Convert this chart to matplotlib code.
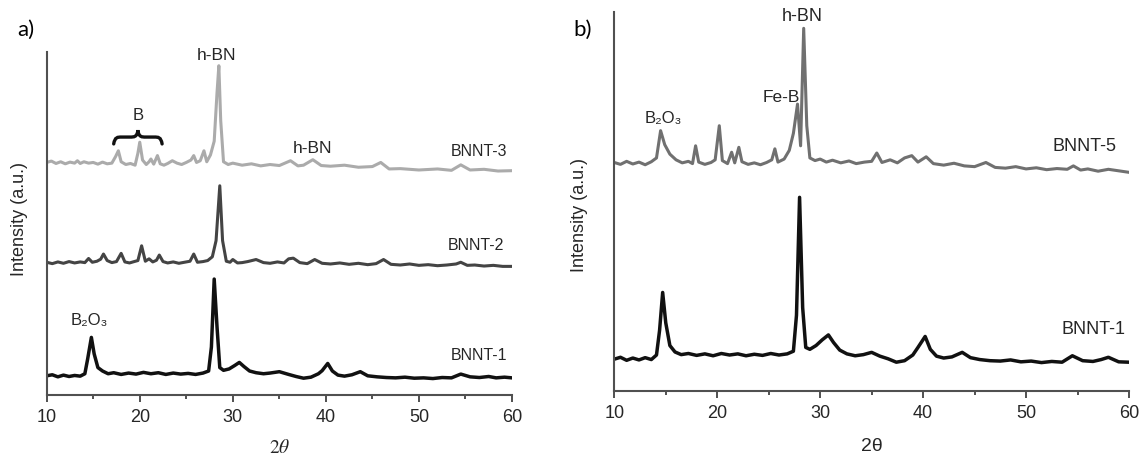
import matplotlib
matplotlib.use("Agg")
import matplotlib.pyplot as plt
from matplotlib.path import Path
from matplotlib.patches import PathPatch
from matplotlib.ticker import MultipleLocator

plt.rcParams['font.family'] = ['Liberation Sans', 'DejaVu Sans']
plt.rcParams['mathtext.fontset'] = 'stix'

# --------------------------
# data (2theta in degrees, intensity in arbitrary units)
# --------------------------
# panel a) BNNT-3 (offset top trace)
a3_x = [10, 10.5, 11, 11.5, 12, 12.5, 13, 13.3, 13.6, 14, 14.5, 15, 15.5, 16, 16.5, 17, 17.4, 17.7, 18.0,
        18.5, 19, 19.5, 19.8, 20.0, 20.3, 20.7, 21.0, 21.2, 21.5, 21.9, 22.2, 22.6, 23.0, 23.5, 24.0, 24.5,
        25.0, 25.5, 25.8, 26.1, 26.5, 26.9, 27.2, 27.6, 28.0, 28.3, 28.5, 28.7, 29.0, 29.5, 30, 31, 32, 33,
        34, 35, 36.2, 37, 37.6, 38.6, 39.5, 40.5, 42, 43.5, 45, 45.9, 46.8, 48, 50, 52, 53.5, 54.5, 55.5,
        57, 58.5, 60]
a3_y = [67.8, 68.2, 67.5, 68.0, 67.4, 67.9, 67.6, 68.3, 67.5, 68.0, 67.6, 67.8, 67.3, 67.9, 67.4, 67.6, 69.5,
        71.2, 68.0, 67.2, 67.5, 67.0, 70.5, 73.7, 68.5, 67.2, 68.0, 68.8, 67.3, 69.8, 67.4, 67.0, 67.5, 68.3,
        67.6, 67.2, 67.8, 68.5, 69.8, 67.8, 68.3, 71.2, 68.0, 70.0, 74.0, 88.0, 96.0, 80.0, 68.0, 67.2, 67.6,
        67.0, 67.4, 66.8, 67.2, 66.9, 68.3, 66.8, 67.0, 68.6, 66.9, 66.7, 67.0, 66.4, 66.6, 67.8, 65.9, 66.0,
        65.6, 65.9, 65.5, 67.1, 65.6, 65.8, 65.3, 65.4]

# panel a) BNNT-2
a2_x = [10, 10.6, 11.2, 11.8, 12.4, 13, 13.6, 14.1, 14.5, 14.9, 15.4, 15.8, 16.1, 16.5, 17, 17.5, 18.0, 18.4,
        18.9, 19.4, 19.8, 20.2, 20.6, 21.0, 21.4, 21.8, 22.1, 22.5, 23, 23.6, 24.2, 24.8, 25.4, 25.8, 26.2,
        26.8, 27.3, 27.8, 28.2, 28.6, 28.9, 29.3, 29.7, 30.0, 30.5, 31, 31.6, 32.5, 33.3, 34, 34.8, 35.5, 36.0,
        36.5, 37.2, 38, 38.8, 39.6, 40.5, 41.5, 42.5, 43.5, 44.5, 45.4, 46.2, 47, 48, 49, 50, 51, 52, 53, 54,
        54.5, 55.2, 56, 57, 58, 59, 60]
a2_y = [38.7, 38.3, 38.8, 38.4, 38.9, 38.5, 38.8, 38.6, 39.8, 38.7, 39.0, 39.6, 41.1, 39.2, 38.6, 38.9, 41.3,
        38.8, 38.5, 38.9, 39.2, 43.5, 39.0, 39.7, 38.8, 39.3, 40.8, 38.9, 38.5, 38.8, 38.4, 38.7, 39.0, 41.1,
        38.7, 38.9, 39.2, 40.3, 45.0, 61.0, 45.0, 39.0, 38.7, 39.5, 38.5, 38.6, 38.9, 39.5, 38.6, 38.4, 38.8,
        38.5, 39.7, 39.9, 38.6, 38.3, 39.5, 38.4, 38.2, 38.5, 38.1, 38.4, 38.0, 38.3, 39.5, 38.1, 37.9, 38.2,
        37.8, 38.0, 37.7, 37.9, 38.2, 38.7, 37.8, 37.9, 37.6, 37.8, 37.5, 37.5]

# panel a) BNNT-1
a1_x = [10, 10.6, 11.2, 11.8, 12.4, 13, 13.6, 14.1, 14.4, 14.8, 15.1, 15.5, 16.0, 16.6, 17.2, 18, 18.8, 19.6,
        20.4, 21.2, 22, 22.8, 23.6, 24.4, 25.2, 26, 26.8, 27.4, 27.7, 28.0, 28.3, 28.6, 29.0, 29.6, 30.2, 30.7,
        31.2, 31.8, 32.5, 33.3, 34, 35, 36, 36.8, 37.6, 38.4, 39.2, 39.6, 40.2, 40.7, 41.3, 42, 42.8, 43.7,
        44.5, 45.5, 46.5, 47.5, 48.5, 49.5, 50.5, 51.5, 52.5, 53.5, 54.5, 55.5, 56.5, 57.5, 58.3, 59.2, 60]
a1_y = [5.6, 5.9, 5.3, 5.8, 5.4, 5.7, 5.5, 6.2, 10.5, 16.8, 12.0, 8.0, 7.0, 6.2, 6.5, 6.0, 6.4, 6.1, 6.6, 6.2,
        6.5, 6.0, 6.4, 6.1, 6.3, 6.0, 6.4, 7.0, 14.0, 33.8, 20.0, 8.0, 7.2, 7.6, 8.6, 9.5, 8.3, 7.0, 6.5, 6.2,
        6.4, 6.8, 6.0, 5.4, 4.9, 5.2, 6.2, 7.1, 9.2, 7.0, 5.8, 5.5, 5.9, 6.8, 5.6, 5.3, 5.1, 5.0, 5.2, 4.9,
        5.0, 4.8, 5.1, 5.0, 6.1, 5.3, 5.1, 5.4, 5.0, 5.2, 5.0]

# panel b) BNNT-5
b5_x = [10, 10.6, 11.2, 11.8, 12.4, 13, 13.6, 14.1, 14.5, 14.9, 15.4, 16, 16.6, 17.2, 17.6, 17.9, 18.2, 18.8,
        19.4, 19.8, 20.2, 20.5, 21.0, 21.4, 21.7, 22.1, 22.4, 23, 23.6, 24.2, 24.8, 25.3, 25.6, 25.9, 26.5,
        27.0, 27.4, 27.8, 28.1, 28.4, 28.7, 29.0, 29.5, 30, 30.6, 31.2, 32, 32.8, 33.5, 34.3, 35.0, 35.5, 36.0,
        36.8, 37.5, 38.2, 38.9, 39.5, 40.3, 41, 42, 43, 44, 45, 46.1, 47, 48, 49, 50, 51, 52, 53, 54, 54.6,
        55.3, 56, 57, 58, 59, 60]
b5_y = [60.3, 59.8, 60.6, 59.9, 60.4, 59.7, 60.5, 61.5, 68.7, 65.0, 62.5, 61.0, 60.2, 60.6, 60.0, 64.7, 60.4,
        59.8, 60.3, 61.0, 70.0, 60.8, 60.0, 63.0, 60.2, 64.3, 60.5, 59.8, 60.2, 59.7, 60.3, 61.0, 63.9, 60.4,
        61.2, 63.5, 68.0, 75.7, 64.7, 95.7, 70.0, 61.5, 60.8, 61.2, 60.4, 60.9, 60.2, 60.7, 60.0, 60.4, 60.6,
        62.8, 60.3, 61.0, 60.2, 61.5, 62.1, 60.4, 61.8, 60.0, 59.6, 60.1, 59.4, 59.2, 60.3, 59.0, 58.8, 59.2,
        58.6, 58.9, 58.4, 58.7, 58.5, 59.4, 58.3, 58.6, 58.0, 58.5, 58.1, 57.7]

# panel b) BNNT-1
b1_x = [10, 10.6, 11.2, 11.8, 12.4, 13, 13.6, 14.1, 14.4, 14.7, 15.0, 15.4, 15.9, 16.5, 17.2, 18, 18.8, 19.6,
        20.4, 21.2, 22, 22.8, 23.6, 24.4, 25.2, 26, 26.8, 27.4, 27.7, 28.0, 28.3, 28.6, 29.0, 29.6, 30.2, 30.8,
        31.3, 31.9, 32.6, 33.4, 34.2, 35.0, 35.8, 36.6, 37.4, 38.2, 39.0, 39.5, 40.2, 40.7, 41.3, 42, 42.8,
        43.8, 44.6, 45.5, 46.5, 47.5, 48.5, 49.5, 50.5, 51.5, 52.5, 53.5, 54.5, 55.5, 56.5, 57.3, 58.0, 59, 60]
b1_y = [8.4, 8.9, 8.1, 8.7, 8.2, 8.8, 8.3, 9.5, 16.0, 26.0, 18.0, 12.0, 10.3, 9.6, 9.9, 9.4, 9.8, 9.3, 9.9,
        9.5, 9.8, 9.3, 9.7, 9.4, 9.9, 9.5, 9.8, 10.5, 20.0, 51.1, 22.0, 11.5, 11.0, 12.0, 13.5, 14.8, 12.8,
        10.8, 9.8, 9.3, 9.6, 10.2, 9.2, 8.5, 7.6, 8.0, 9.5, 11.5, 14.4, 11.0, 9.2, 8.7, 9.0, 10.2, 8.8, 8.3,
        8.0, 7.9, 8.2, 7.7, 7.9, 7.5, 7.8, 7.6, 9.3, 8.0, 7.8, 8.3, 8.9, 7.7, 7.6]

x_ticks = [10, 20, 30, 40, 50, 60]

# --------------------------
# figure layout
# --------------------------
fig = plt.figure(figsize=(11.42, 4.6), dpi=100)
ax_a = fig.add_axes([0.0409, 0.1391, 0.4074, 0.7457])
ax_b = fig.add_axes([0.5379, 0.1478, 0.4507, 0.8239])

TXT = '#262626'


def style_axis(ax):
    ax.set_xlim(10, 60)
    ax.set_ylim(0, 100)
    for s in ['top', 'right']:
        ax.spines[s].set_visible(False)
    for s in ['left', 'bottom']:
        ax.spines[s].set_color('#505050')
        ax.spines[s].set_linewidth(1.5)
    ax.set_yticks([])
    ax.set_xticks(x_ticks)
    ax.xaxis.set_minor_locator(MultipleLocator(5))
    ax.tick_params(axis='x', which='major', length=5, width=1.4, color='#505050',
                   labelsize=13, labelcolor=TXT, pad=4)
    ax.tick_params(axis='x', which='minor', length=3, width=1.4, color='#505050')
    ax.set_ylabel('Intensity (a.u.)', fontsize=13, color=TXT)


def curly_brace(ax, x0, x1, y, h, **kw):
    # horizontal brace: ends curl down, tip points up
    xm = (x0 + x1) / 2
    q = (x1 - x0) * 0.16
    verts = [(x0, y - h / 2), (x0 + 0.15 * q, y), (x0 + 0.5 * q, y), (x0 + q, y),
             (xm - q, y),
             (xm - 0.5 * q, y), (xm - 0.1 * q, y), (xm, y + h / 2),
             (xm + 0.1 * q, y), (xm + 0.5 * q, y), (xm + q, y),
             (x1 - q, y),
             (x1 - 0.5 * q, y), (x1 - 0.15 * q, y), (x1, y - h / 2)]
    codes = [Path.MOVETO, Path.CURVE4, Path.CURVE4, Path.CURVE4,
             Path.LINETO,
             Path.CURVE4, Path.CURVE4, Path.CURVE4,
             Path.CURVE4, Path.CURVE4, Path.CURVE4,
             Path.LINETO,
             Path.CURVE4, Path.CURVE4, Path.CURVE4]
    ax.add_patch(PathPatch(Path(verts, codes), fill=False, capstyle='round', **kw))


# --------------------------
# panel a
# --------------------------
style_axis(ax_a)
ax_a.plot(a3_x, a3_y, color='#ababab', lw=2.2)
ax_a.plot(a2_x, a2_y, color='#444444', lw=2.2)
ax_a.plot(a1_x, a1_y, color='#111111', lw=2.5)
ax_a.set_xlabel(r'$2\theta$', fontsize=14, color=TXT, labelpad=10)
ax_a.yaxis.set_label_coords(-0.040, 0.516)

ax_a.text(28.2, 99.4, 'h-BN', ha='center', va='center', fontsize=12.5, color=TXT)
ax_a.text(19.8, 81.9, 'B', ha='center', va='center', fontsize=12, color=TXT)
curly_brace(ax_a, 17.2, 22.4, 75.2, 4.0, lw=2.4, color='#111111')
ax_a.text(38.6, 72.2, 'h-BN', ha='center', va='center', fontsize=12.5, color=TXT)
ax_a.text(59.5, 71.2, 'BNNT-3', ha='right', va='center', fontsize=11.5, color=TXT)
ax_a.text(59.2, 44.0, 'BNNT-2', ha='right', va='center', fontsize=11.5, color=TXT)
ax_a.text(14.6, 21.9, 'B₂O₃', ha='center', va='center', fontsize=12, color=TXT)
ax_a.text(59.5, 11.7, 'BNNT-1', ha='right', va='center', fontsize=11.5, color=TXT)

# --------------------------
# panel b
# --------------------------
style_axis(ax_b)
ax_b.plot(b5_x, b5_y, color='#707070', lw=2.2)
ax_b.plot(b1_x, b1_y, color='#111111', lw=2.5)
ax_b.set_xlabel('2θ', fontsize=14, color=TXT, labelpad=12)
ax_b.yaxis.set_label_coords(-0.051, 0.467)

ax_b.text(28.3, 99.0, 'h-BN', ha='center', va='center', fontsize=13, color=TXT)
ax_b.text(26.2, 77.8, 'Fe-B', ha='center', va='center', fontsize=12.5, color=TXT)
ax_b.text(14.8, 72.2, 'B₂O₃', ha='center', va='center', fontsize=12, color=TXT)
ax_b.text(58.8, 64.7, 'BNNT-5', ha='right', va='center', fontsize=13, color=TXT)
ax_b.text(59.7, 16.4, 'BNNT-1', ha='right', va='center', fontsize=13, color=TXT)

# panel letters
fig.text(26 / 1142, 1 - 30 / 460, 'a)', ha='center', va='center', fontsize=16, family='Lato')
fig.text(583 / 1142, 1 - 30 / 460, 'b)', ha='center', va='center', fontsize=16, family='Lato')

fig.savefig('out.png', dpi=100, facecolor='white')
